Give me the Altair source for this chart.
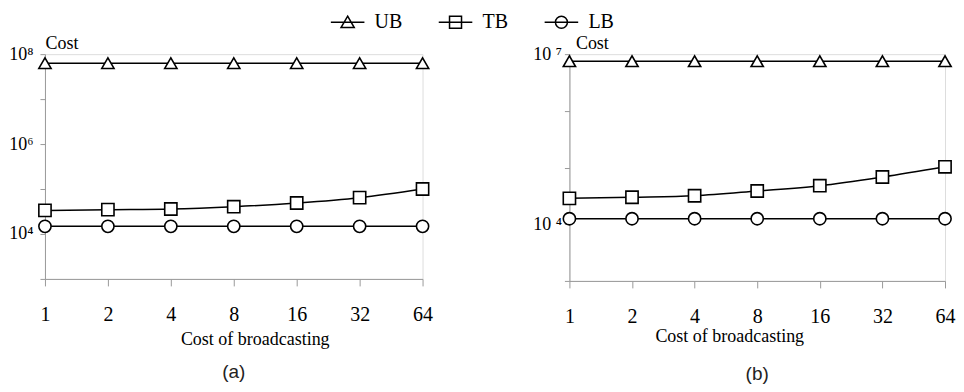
import altair as alt
import pandas as pd

# ---------------- data ----------------
x_vals = [1, 2, 4, 8, 16, 32, 64]
series_names = ["UB", "TB", "LB"]

a_UB = [6.3e7, 6.3e7, 6.3e7, 6.3e7, 6.3e7, 6.3e7, 6.3e7]
a_TB = [33400, 34700, 35900, 40400, 48800, 64100, 100000]
a_LB = [14800, 14800, 14800, 14800, 14800, 14800, 14800]

b_UB = [7.5e6, 7.5e6, 7.5e6, 7.5e6, 7.5e6, 7.5e6, 7.5e6]
b_TB = [28600, 29900, 31800, 38500, 47800, 68000, 103000]
b_LB = [12500, 12500, 12500, 12500, 12500, 12500, 12500]

x_title = "Cost of broadcasting"
y_title = "Cost"


def long_df(ub, tb, lb):
    rows = []
    for name, vals in zip(series_names, [ub, tb, lb]):
        for xv, yv in zip(x_vals, vals):
            rows.append({"x": xv, "cost": yv, "series": name})
    return pd.DataFrame(rows)


df_a = long_df(a_UB, a_TB, a_LB)
df_b = long_df(b_UB, b_TB, b_LB)

SERIF = "Liberation Serif"
AXIS_GRAY = "#9a9a9a"

shape_of = {"UB": "triangle-up", "TB": "square", "LB": "circle"}

legend_paths = [
    "M-2.8,0H2.8M0,-1L1.1,0.9L-1.1,0.9Z",
    "M-2.8,0H2.8M-1,-1H1V1H-1Z",
    "M-2.8,0H2.8M1,0A1,1,0,1,1,-1,0A1,1,0,1,1,1,0Z",
]


def panel(df, ydomain, yvalues, label_expr, width, height, ylab_pad,
          ytitle_x, xtitle_x, xtitle_y, caption, cap_offset, with_legend):
    x_enc = alt.X(
        "x:Q",
        scale=alt.Scale(type="log", base=2, domain=[1, 64], nice=False),
        axis=alt.Axis(
            values=x_vals, format="d", grid=False, tickSize=7,
            domainColor=AXIS_GRAY, tickColor=AXIS_GRAY, labelColor="black",
            labelFont=SERIF, labelFontSize=20, labelPadding=19,
            labelFlush=False, labelOverlap=False,
            title=x_title, titleFont=SERIF, titleFontSize=18,
            titleFontWeight="normal", titleColor="black",
            titleX=xtitle_x, titleY=xtitle_y, titleBaseline="middle",
            titleAlign="center",
        ),
    )
    y_enc = alt.Y(
        "cost:Q",
        scale=alt.Scale(type="log", domain=ydomain, nice=False),
        axis=alt.Axis(
            values=yvalues, labelExpr=label_expr, grid=False, tickSize=5,
            domainColor=AXIS_GRAY, tickColor=AXIS_GRAY, labelColor="black",
            labelFont=SERIF, labelFontSize=18,
            labelOverlap=False, labelFlush=False,
            labelPadding=ylab_pad,
            title=y_title, titleAngle=0, titleX=ytitle_x, titleY=-11,
            titleAlign="left", titleBaseline="middle", titleFont=SERIF,
            titleFontSize=18, titleFontWeight="normal", titleColor="black",
        ),
    )
    base = alt.Chart(df).encode(x=x_enc, y=y_enc)
    line = base.mark_line(interpolate="monotone", color="black",
                          strokeWidth=1.5).encode(detail="series:N")
    layers = [line]
    for name in series_names:
        layers.append(
            base.transform_filter(alt.datum.series == name).mark_point(
                shape=shape_of[name], size=150, filled=True, fill="white",
                stroke="black", strokeWidth=1.6, opacity=1,
            )
        )
    if with_legend:
        layers.append(
            base.mark_point(opacity=0, filled=False, color="black").encode(
                shape=alt.Shape(
                    "series:N",
                    scale=alt.Scale(domain=series_names, range=legend_paths),
                    legend=alt.Legend(
                        title=None, orient="none", direction="horizontal",
                        legendX=293, legendY=-42, symbolSize=144,
                        symbolStrokeColor="black", symbolStrokeWidth=1.5,
                        symbolFillColor="transparent", labelFont=SERIF,
                        labelFontSize=20, labelColor="black", labelOffset=17,
                        columnPadding=33, padding=0,
                    ),
                )
            )
        )
    return alt.layer(*layers).properties(
        width=width, height=height,
        title=alt.TitleParams(caption, orient="bottom", font="Liberation Sans",
                              fontSize=19, fontWeight="normal", color="#222",
                              anchor="middle", offset=cap_offset),
    )


pa = panel(
    df_a, [1e3, 1e8], [1e3, 1e4, 1e5, 1e6, 1e7, 1e8],
    "datum.value == 1e8 ? '10⁸' : datum.value == 1e6 ? '10⁶' : datum.value == 1e4 ? '10⁴' : ''",
    378, 225, 7, 0, 210, 61, "(a)", 14, True,
)
pb = panel(
    df_b, [1e3, 1e7], [1e3, 1e4, 1e5, 1e6, 1e7],
    "datum.value == 1e7 ? '10 ⁷' : datum.value == 1e4 ? '10 ⁴' : ''",
    376, 227, 3, 6, 160, 56, "(b)", 19, False,
)

chart = alt.hconcat(pa, pb, spacing=147, bounds="flush").properties(
    padding={"left": 0, "top": 4, "right": 0, "bottom": 0}
).configure_view(stroke=None).configure(background="white")

chart.save("out.html", embed_options={"renderer": "svg", "actions": False})
